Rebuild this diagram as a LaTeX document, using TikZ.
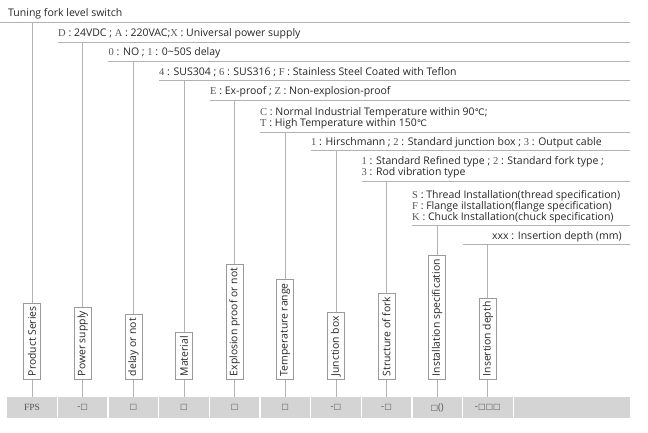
\documentclass[tikz,border=0pt]{standalone}
\usepackage{fontspec}
\setmainfont{Open Sans}
\newfontfamily\codefont{Liberation Serif}
\newfontfamily\symfont{DejaVu Sans}
\definecolor{ink}{HTML}{262626}
\definecolor{codegray}{HTML}{555555}
\definecolor{rulegray}{HTML}{B2B2B2}
\definecolor{boxgray}{HTML}{9A9A9A}
\definecolor{cellfill}{HTML}{D4D4D4}
\definecolor{celltext}{HTML}{555555}
\newcommand\cd[1]{{\codefont\color{codegray}#1}}
\newcommand\sq{{\symfont\fontsize{8}{8}\selectfont □}}
\newcommand\degc{{\symfont\fontsize{9}{9}\selectfont ℃}}
\newcommand\fps{{\codefont FPS}}
\begin{document}
\begin{tikzpicture}[x=1pt,y=-1pt,
  rowtext/.style={anchor=west, inner sep=0pt, text=ink, align=left,
    font=\fontsize{10.5}{11.2}\selectfont},
  ruleline/.style={draw=rulegray, line width=0.8pt},
  stem/.style={draw=rulegray, line width=0.8pt},
  tag/.style={draw=boxgray, line width=0.6pt, fill=white, rotate=90,
    anchor=west, inner xsep=3.5pt, inner ysep=0pt, minimum height=17pt,
    text=ink, font=\fontsize{10.4}{11}\selectfont},
  cell/.style={fill=cellfill, minimum width=49.3pt, minimum height=21pt,
    inner sep=0pt, anchor=north, text=celltext,
    font=\fontsize{9.5}{10}\selectfont}]
\useasboundingbox (0,0) rectangle (648,433);

% option rows, each with the rule beneath it
\node[rowtext] (row0) at (8,14) {Tuning fork level switch};
\node[rowtext] (row1) at (58,34) {\cd{D} : 24VDC ; \cd{A} : 220VAC;\cd{X} : Universal power supply};
\node[rowtext] (row2) at (108.5,53) {\cd{0} : NO ; \cd{1} : 0\textasciitilde 50S delay};
\node[rowtext] (row3) at (159,72) {\cd{4} : SUS304 ; \cd{6} : SUS316 ; \cd{F} : Stainless Steel Coated with Teflon};
\node[rowtext] (row4) at (210,92) {\cd{E} : Ex-proof ; \cd{Z} : Non-explosion-proof};
\node[rowtext] (row5) at (260,118.5) {\cd{C} : Normal Industrial Temperature within 90\degc ;\\\cd{T} : High Temperature within 150\degc};
\node[rowtext] (row6) at (311,143) {\cd{1} : Hirschmann ; \cd{2} : Standard junction box ; \cd{3} : Output cable};
\node[rowtext] (row7) at (361.5,167.5) {\cd{1} : Standard Refined type ; \cd{2} : Standard fork type ;\\\cd{3} : Rod vibration type};
\node[rowtext] (row8) at (412,207) {\cd{S} : Thread Installation(thread specification)\\\cd{F} : Flange iIstallation(flange specification)\\\cd{K} : Chuck Installation(chuck specification)};
\node[rowtext] (row9) at (492,237) {xxx : Insertion depth (mm)};

\foreach \i/\lx/\ly in {0/0/22,1/57.6/42,2/108.3/61,3/159/80.5,4/209.6/100,
    5/260.3/132,6/311/150.5,7/361.6/181,8/412.2/225,9/462.9/244} {
  \coordinate (hl\i) at (\lx,\ly);
  \coordinate (hr\i) at (630,\ly);
  \draw[ruleline] (hl\i) -- (hr\i);
}

% field tags, stems and the code cells
\foreach \i/\lab/\ly/\ct in {0/Product Series/22/\fps,
    1/Power supply/42/-\sq,
    2/delay or not/61/\sq,
    3/Material/80.5/\sq,
    4/Explosion proof or not/100/\sq,
    5/Temperature range/132/\sq,
    6/Junction box/150.5/-\sq,
    7/Structure of fork/181/-\sq,
    8/Installation specification/225/\sq(),
    9/Insertion depth/244/-\sq\sq\sq} {
  \pgfmathsetmacro\xx{32+50.65*\i}
  \coordinate (top\i) at (\xx,\ly);
  \node[tag] (lab\i) at (\xx,380) {\lab};
  \node[cell] (cell\i) at (\xx,397) {\ct};
  \draw[stem] (top\i) -- (lab\i.east);
  \draw[stem] (lab\i.west) -- (cell\i.north);
}
\node[cell, anchor=north west, minimum width=115.5pt] (cellend) at (514,397) {};
\end{tikzpicture}
\end{document}
